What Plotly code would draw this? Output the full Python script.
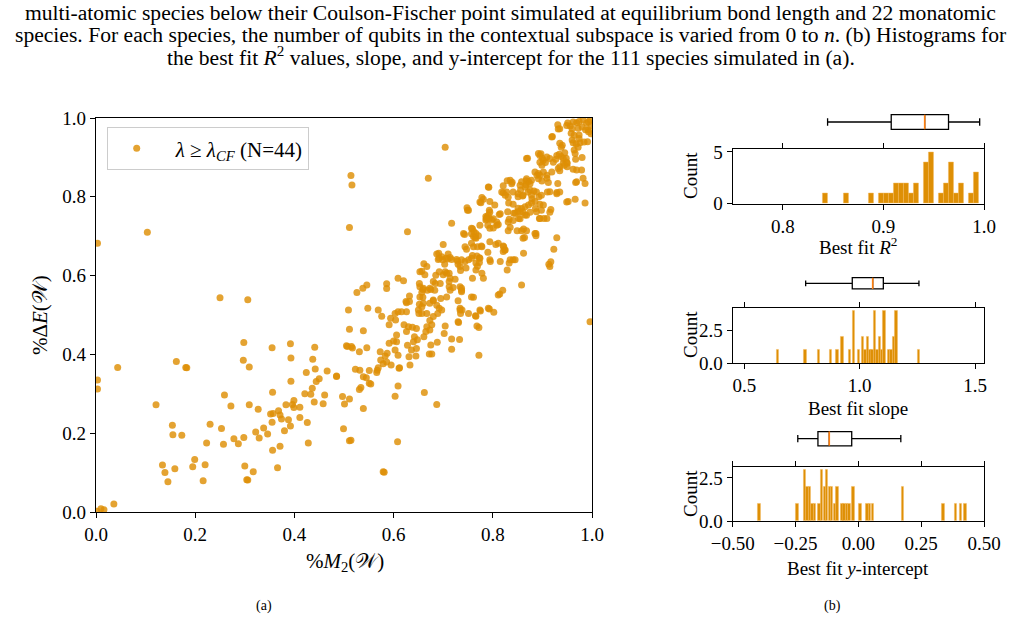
import plotly.graph_objects as go

# ---------------- data ----------------
# scatter: (%M2(W), %dE(W)) pairs
pts_left = [
    (0.003,0.682),(0.1035,0.710),(0.25,0.544),(0.306,0.539),
    (0.514,0.854),(0.516,0.830),(0.511,0.722),(0.509,0.513),
    (0.511,0.464),(0.505,0.422),(0.511,0.287),(0.497,0.293),(0.501,0.274),(0.499,0.211),(0.511,0.181),
    (0.003,0.335),(0.003,0.312),(0.0437,0.367),(0.162,0.382),(0.181,0.367),(0.183,0.366),
    (0.121,0.272),(0.154,0.220),(0.155,0.196),(0.173,0.195),(0.134,0.119),(0.139,0.100),(0.145,0.077),(0.159,0.110),
    (0.195,0.115),(0.199,0.133),(0.216,0.079),(0.220,0.120),(0.223,0.175),(0.230,0.223),(0.259,0.297),(0.272,0.269),
    (0.253,0.212),(0.257,0.172),(0.278,0.186),(0.287,0.173),(0.298,0.189),(0.300,0.117),(0.304,0.082),(0.306,0.081),(0.317,0.102),
    (0.298,0.430),(0.297,0.385),(0.309,0.368),(0.309,0.272),(0.327,0.261),(0.322,0.203),(0.329,0.188),(0.338,0.213),(0.346,0.198),
    (0.355,0.417),(0.356,0.304),(0.352,0.249),(0.357,0.250),(0.355,0.228),(0.356,0.157),(0.366,0.112),(0.368,0.257),(0.371,0.246),
    (0.374,0.236),(0.371,0.167),(0.380,0.206),(0.383,0.272),(0.388,0.234),(0.392,0.218),
    (0.392,0.427),(0.393,0.391),(0.393,0.332),(0.396,0.273),(0.399,0.283),(0.399,0.265),(0.411,0.266),(0.411,0.240),(0.421,0.300),
    (0.424,0.354),(0.426,0.227),(0.428,0.175),(0.433,0.299),(0.436,0.314),(0.437,0.388),(0.441,0.418),(0.442,0.363),(0.444,0.331),
    (0.440,0.279),(0.450,0.338),(0.458,0.275),(0.461,0.297),(0.466,0.358),(0.485,0.344),
    (0.036,0.020),(0.010,0.008),(0.016,0.006),(0.002,0.002),
]
pts_mid = [
    (0.526,0.557),(0.538,0.568),(0.546,0.576),(0.548,0.517),(0.569,0.513),(0.576,0.497),(0.586,0.579),(0.586,0.567),
    (0.539,0.460),(0.507,0.420),(0.515,0.420),(0.517,0.416),(0.531,0.407),(0.546,0.417),(0.523,0.362),(0.532,0.360),
    (0.551,0.359),(0.567,0.360),(0.566,0.354),(0.569,0.366),(0.573,0.407),(0.574,0.386),(0.579,0.376),(0.583,0.396),
    (0.587,0.403),(0.586,0.381),(0.595,0.373),(0.591,0.428),(0.600,0.434),(0.606,0.432),(0.606,0.449),(0.603,0.411),
    (0.609,0.398),(0.611,0.365),(0.591,0.475),(0.604,0.487),(0.594,0.492),(0.603,0.504),(0.609,0.508),(0.616,0.508),(0.626,0.508),
    (0.621,0.475),(0.630,0.470),(0.626,0.458),(0.638,0.469),(0.646,0.466),(0.625,0.534),(0.632,0.548),(0.632,0.534),
    (0.628,0.423),(0.636,0.411),(0.631,0.394),(0.645,0.396),(0.646,0.415),(0.648,0.437),(0.642,0.445),(0.640,0.432),(0.633,0.373),
    (0.652,0.580),(0.659,0.565),(0.653,0.546),(0.650,0.513),(0.651,0.504),(0.657,0.504),(0.667,0.504),(0.660,0.530),
    (0.673,0.486),(0.677,0.475),(0.673,0.462),(0.665,0.458),(0.661,0.445),(0.675,0.424),(0.672,0.401),(0.677,0.401),
    (0.662,0.303),(0.687,0.273),(0.688,0.431),
    (0.680,0.538),(0.687,0.525),(0.689,0.504),(0.704,0.472),(0.702,0.453),(0.717,0.439),(0.717,0.413),(0.733,0.438),
    (0.731,0.481),(0.734,0.513),(0.735,0.504),(0.737,0.568),(0.737,0.562),(0.761,0.545),(0.766,0.497),(0.768,0.472),
    (0.772,0.468),(0.772,0.398),
    (0.539,0.343),(0.551,0.327),(0.534,0.316),(0.531,0.311),(0.539,0.263),(0.609,0.320),(0.603,0.294),(0.485,0.345),
    (0.545,0.341),(0.554,0.325),
    (0.514,0.182),(0.579,0.102),(0.581,0.101),(0.608,0.178),
    (0.793,0.515),(0.802,0.507),(0.775,0.510),(0.765,0.498),(0.612,0.366),
]
pts_upper = [
    (0.704,0.926),(0.670,0.847),(0.628,0.711),(0.609,0.593),(0.620,0.587),(0.626,0.531),
    (0.657,0.558),(0.661,0.630),(0.657,0.611),(0.663,0.602),(0.652,0.527),(0.659,0.545),(0.668,0.563),(0.675,0.565),
    (0.673,0.530),(0.680,0.536),(0.685,0.601),(0.691,0.657),(0.692,0.644),(0.684,0.580),(0.694,0.580),(0.700,0.679),
    (0.703,0.629),(0.709,0.642),(0.704,0.610),(0.712,0.606),(0.712,0.572),(0.714,0.563),(0.707,0.546),(0.717,0.733),
    (0.729,0.637),(0.730,0.629),(0.734,0.572),(0.730,0.536),(0.738,0.513),(0.743,0.704),(0.744,0.673),(0.747,0.667),
    (0.748,0.772),(0.749,0.766),(0.759,0.719),(0.761,0.699),(0.766,0.695),(0.761,0.673),(0.759,0.651),(0.768,0.650),
    (0.769,0.624),(0.778,0.673),(0.773,0.645),(0.773,0.633),(0.778,0.798),(0.781,0.794),(0.778,0.606),(0.781,0.593),
    (0.786,0.741),(0.792,0.824),(0.788,0.748),(0.793,0.766),(0.794,0.686),(0.798,0.741),(0.801,0.721),(0.795,0.636),
    (0.806,0.679),(0.813,0.755),(0.811,0.730),(0.815,0.636),(0.820,0.563),(0.814,0.553),(0.822,0.673),(0.824,0.665),
    (0.821,0.828),(0.821,0.810),(0.829,0.841),(0.831,0.799),(0.832,0.784),(0.830,0.762),(0.833,0.743),(0.835,0.723),
    (0.839,0.837),(0.841,0.781),(0.842,0.758),(0.841,0.640),(0.833,0.632),(0.850,0.762),(0.852,0.745),(0.849,0.714),
    (0.851,0.800),(0.856,0.817),(0.858,0.770),(0.860,0.802),(0.862,0.718),(0.864,0.697),(0.862,0.657),(0.868,0.714),
    (0.867,0.830),(0.867,0.841),(0.870,0.898),(0.872,0.839),(0.875,0.817),(0.879,0.795),(0.883,0.815),(0.886,0.770),
    (0.888,0.762),(0.887,0.707),(0.887,0.701),(0.889,0.855),(0.892,0.846),(0.894,0.745),(0.893,0.800),(0.895,0.781),
    (0.899,0.840),(0.892,0.910),(0.897,0.909),(0.903,0.745),(0.902,0.893),(0.906,0.887),(0.909,0.847),(0.912,0.836),
    (0.915,0.813),(0.917,0.768),(0.913,0.629),(0.915,0.623),(0.917,0.635),(0.923,0.667),(0.929,0.696),(0.920,0.953),
    (0.922,0.888),(0.927,0.895),(0.931,0.983),(0.932,0.972),(0.935,0.936),(0.934,0.908),(0.938,0.902),(0.932,0.872),
    (0.935,0.866),(0.931,0.834),(0.929,0.811),(0.940,0.931),(0.942,0.885),(0.945,0.912),(0.948,0.898),(0.950,0.885),
    (0.950,0.876),(0.952,0.788),(0.951,0.987),(0.956,0.980),(0.958,0.961),(0.960,0.944),(0.962,0.937),(0.964,0.919),
    (0.966,0.910),(0.967,0.895),(0.969,0.868),(0.967,0.836),(0.966,0.794),(0.969,0.988),(0.972,0.974),(0.974,0.991),
    (0.974,0.957),(0.976,0.937),(0.979,0.868),(0.980,0.900),(0.982,0.847),(0.986,0.834),(0.986,0.784),(0.989,0.987),
    (0.992,0.970),(0.991,0.940),(0.996,0.995),(0.993,0.965),
    (0.962,0.990),(0.982,0.995),(0.993,0.990),(0.960,0.973),(0.980,0.977),(0.987,0.970),(0.964,0.956),(0.974,0.948),
    (0.968,0.934),(0.972,0.926),(0.984,0.939),(0.949,0.981),(0.935,0.973),(0.919,0.952),(0.938,0.926),(0.998,0.980),
    (0.998,0.960),(0.996,0.483),
    (0.776,0.785),(0.794,0.788),(0.804,0.779),(0.851,0.771),(0.865,0.775),(0.872,0.779),(0.878,0.784),(0.885,0.788),
    (0.902,0.779),(0.845,0.758),(0.855,0.762),(0.865,0.754),(0.895,0.745),(0.909,0.745),(0.808,0.728),(0.786,0.750),
    (0.793,0.745),(0.790,0.728),(0.794,0.720),(0.774,0.728),(0.831,0.714),(0.858,0.714),(0.861,0.695),(0.885,0.707),
    (0.741,0.707),(0.757,0.720),(0.762,0.711),(0.766,0.707),(0.771,0.701),(0.764,0.697),(0.757,0.682),(0.769,0.673),
    (0.777,0.675),(0.790,0.659),(0.811,0.682),(0.821,0.675),(0.825,0.665),(0.821,0.661),(0.687,0.655),(0.697,0.648),
    (0.710,0.655),(0.714,0.646),(0.690,0.641),(0.699,0.640),(0.706,0.644),(0.717,0.641),(0.727,0.641),(0.737,0.640),
    (0.744,0.636),(0.751,0.640),(0.757,0.644),(0.774,0.644),(0.667,0.623),(0.653,0.610),(0.692,0.610),(0.700,0.602),
    (0.707,0.606),(0.714,0.593),(0.712,0.585),(0.724,0.591),(0.720,0.570),(0.680,0.585),(0.673,0.568),(0.683,0.563),
    (0.734,0.623),(0.735,0.613),(0.746,0.619),(0.759,0.593),(0.766,0.632),(0.766,0.614),(0.794,0.640),(0.835,0.640),
    (0.845,0.640),(0.829,0.614),(0.811,0.551),(0.858,0.576),(0.737,0.559),(0.757,0.546),(0.774,0.513),(0.791,0.517),
    (0.653,0.572),(0.660,0.568),(0.657,0.521),(0.692,0.517),(0.695,0.542),(0.697,0.513),(0.680,0.496),(0.734,0.517),
    (0.730,0.483),(0.751,0.504),(0.667,0.470),
    (0.868,0.897),(0.895,0.905),(0.900,0.897),(0.909,0.901),(0.915,0.897),(0.895,0.888),(0.899,0.880),(0.929,0.905),
    (0.942,0.897),(0.949,0.888),(0.944,0.880),(0.935,0.876),(0.885,0.863),(0.892,0.859),(0.895,0.855),(0.902,0.863),
    (0.909,0.855),(0.919,0.863),(0.858,0.838),(0.868,0.846),(0.875,0.833),(0.878,0.842),(0.865,0.825),(0.855,0.829),
    (0.835,0.842),(0.838,0.833),(0.828,0.812),(0.818,0.812),(0.825,0.804),(0.791,0.825),(0.841,0.812),(0.851,0.808),
    (0.861,0.804),(0.871,0.812),(0.878,0.804),(0.888,0.812),(0.898,0.804),(0.910,0.812),(0.929,0.808),(0.935,0.812),
    (0.751,0.766),(0.774,0.787),(0.794,0.761),(0.791,0.753),(0.801,0.744),(0.787,0.744),(0.808,0.736),(0.815,0.757),
    (0.841,0.740),(0.831,0.736),(0.855,0.744),(0.861,0.761),(0.868,0.753),(0.875,0.761),(0.898,0.766),(0.915,0.761),
    (0.757,0.706),(0.949,0.787),(0.969,0.838),(0.962,0.870),
]

# histogram bins (centres) and counts
r2_centers = [0.842, 0.8625, 0.8875, 0.8975, 0.9025, 0.9075, 0.9125, 0.9175, 0.9225, 0.9275, 0.9325,
              0.9425, 0.9475, 0.9575, 0.9625, 0.9675, 0.9725, 0.9775, 0.9875, 0.9925]
r2_counts = [1, 1, 1, 1, 1, 1, 2, 2, 2, 1, 2, 4, 5, 1, 2, 4, 1, 2, 1, 3]
slope_centers = [0.645, 0.7645, 0.8235, 0.874, 0.903, 0.925, 0.956, 0.974, 0.995, 1.014, 1.0245, 1.035,
                 1.0455, 1.054, 1.065, 1.076, 1.086, 1.096, 1.1055, 1.1265, 1.137, 1.1475, 1.158, 1.257]
slope_counts = [1, 1, 1, 1, 1, 2, 1, 4, 1, 2, 1, 2, 1, 1, 4, 1, 2, 1, 4, 1, 1, 2, 4, 1]
icpt_centers = [-0.394, -0.244, -0.214, -0.204, -0.194, -0.184, -0.174, -0.155, -0.145, -0.135, -0.125,
                -0.115, -0.105, -0.095, -0.085, -0.065, -0.056, -0.046, -0.036, -0.021, 0.007, 0.036,
                0.046, 0.056, 0.177, 0.338, 0.388, 0.407, 0.425]
icpt_counts = [1, 1, 3, 2, 2, 1, 1, 1, 3, 2, 3, 2, 2, 1, 2, 1, 1, 1, 1, 2, 1, 1, 1, 1, 2, 1, 1, 1, 1]

# box-plot statistics: lower whisker, q1, median, q3, upper whisker
r2_box = [0.8444, 0.9077, 0.941, 0.9647, 0.9957]
slope_box = [0.766, 0.968, 1.0565, 1.1026, 1.257]
icpt_box = [-0.241, -0.1608, -0.1157, -0.0264, 0.169]

caption_lines = [
    "multi-atomic species below their Coulson-Fischer point simulated at equilibrium bond length and 22 monatomic",
    "species. For each species, the number of qubits in the contextual subspace is varied from 0 to <i>n</i>. (b) Histograms for",
    "the best fit <i>R</i><sup>2</sup> values, slope, and y-intercept for the 111 species simulated in (a).",
]

# ---------------- style ----------------
W, H = 1021, 623
ORANGE = "#DE8F05"
FONT = "Liberation Serif"

def px(x):
    return x / W

def py(y):
    return 1 - y / H

pts = pts_left + pts_mid + pts_upper
xs = [p[0] for p in pts]
ys = [p[1] for p in pts]

fig = go.Figure()

fig.add_trace(go.Scatter(
    x=xs, y=ys, mode="markers", xaxis="x", yaxis="y",
    marker=dict(color=ORANGE, size=7, opacity=0.82, line=dict(width=0)),
    name="\u00a0\u00a0<i>λ</i> ≥ <i>λ</i><sub><i>CF</i></sub> (N=44)", showlegend=True,
))

hist_specs = [
    ("x2", "y2", "x5", "y5", r2_centers, r2_counts, 0.00504, r2_box, 0.487),
    ("x3", "y3", "x6", "y6", slope_centers, slope_counts, 0.0105, slope_box, 0.377),
    ("x4", "y4", "x7", "y7", icpt_centers, icpt_counts, 0.0097, icpt_box, 0.477),
]
for xa, ya, xb, yb, centers, counts, bw, box, bwid in hist_specs:
    fig.add_trace(go.Bar(
        x=centers, y=counts, width=bw, xaxis=xa, yaxis=ya, showlegend=False,
        marker=dict(color=ORANGE, line=dict(color="#F2B75A", width=0.5)),
    ))
    fig.add_trace(go.Box(
        y=[0], lowerfence=[box[0]], q1=[box[1]], median=[box[2]], q3=[box[3]], upperfence=[box[4]],
        orientation="h", xaxis=xb, yaxis=yb, showlegend=False, boxpoints=False,
        fillcolor="white", line=dict(color="black", width=1.3), width=bwid, whiskerwidth=0.5,
    ))
    fig.add_trace(go.Scatter(
        x=[box[2], box[2]], y=[-bwid / 2, bwid / 2], mode="lines", xaxis=xb, yaxis=yb,
        line=dict(color="#ff7f0e", width=1.6), showlegend=False,
    ))

axis_common = dict(showline=True, linecolor="black", linewidth=1.2, mirror=True, ticks="outside",
                   ticklen=5, tickwidth=1.2, tickcolor="black", showgrid=False, zeroline=False,
                   automargin=False, tickfont=dict(family=FONT, size=19, color="black"))
hidden = dict(visible=False, automargin=False, showgrid=False, zeroline=False)

hx = [px(732.7), px(984)]
r_r2, r_slope, r_icpt = [0.75, 1.0], [0.4497, 1.539], [-0.5, 0.5]
layout = dict(
    width=W, height=H, margin=dict(l=0, r=0, t=0, b=0, autoexpand=False),
    paper_bgcolor="white", plot_bgcolor="white",
    font=dict(family=FONT, size=17, color="black"),
    bargap=0,
    xaxis=dict(domain=[px(96), px(592)], range=[0, 1], anchor="y",
               tickvals=[0, 0.2, 0.4, 0.6, 0.8, 1.0], tickformat=".1f", **axis_common),
    yaxis=dict(domain=[py(512), py(118)], range=[0, 1], anchor="x",
               tickvals=[0, 0.2, 0.4, 0.6, 0.8, 1.0], tickformat=".1f", **axis_common),
    xaxis2=dict(domain=hx, range=r_r2, anchor="y2",
                tickvals=[0.8, 0.9, 1.0], tickformat=".1f", **{**axis_common, "mirror": "allticks"}),
    yaxis2=dict(domain=[py(203.7), py(149.3)], range=[0, 5.25], anchor="x2",
                tickvals=[0, 5], **axis_common),
    xaxis3=dict(domain=hx, range=r_slope, anchor="y3",
                tickvals=[0.5, 1.0, 1.5], tickformat=".1f", **{**axis_common, "mirror": "allticks"}),
    yaxis3=dict(domain=[py(363.3), py(307.7)], range=[0, 4.2], anchor="x3",
                tickvals=[0, 2.5], tickformat=".1f", **axis_common),
    xaxis4=dict(domain=hx, range=r_icpt, anchor="y4",
                tickvals=[-0.5, -0.25, 0, 0.25, 0.5],
                ticktext=["\u22120.50", "\u22120.25", "0.00", "0.25", "0.50"],
                **{**axis_common, "mirror": "allticks"}),
    yaxis4=dict(domain=[py(521), py(466.7)], range=[0, 3.15], anchor="x4",
                tickvals=[0, 2.5], tickformat=".1f", **axis_common),
    xaxis5=dict(domain=hx, range=r_r2, anchor="y5", **hidden),
    yaxis5=dict(domain=[py(137), py(107)], range=[-0.5, 0.5], anchor="x5", **hidden),
    xaxis6=dict(domain=hx, range=r_slope, anchor="y6", **hidden),
    yaxis6=dict(domain=[py(298.3), py(268.3)], range=[-0.5, 0.5], anchor="x6", **hidden),
    xaxis7=dict(domain=hx, range=r_icpt, anchor="y7", **hidden),
    yaxis7=dict(domain=[py(453.7), py(423.7)], range=[-0.5, 0.5], anchor="x7", **hidden),
    showlegend=True,
    legend=dict(x=px(107), y=py(127), xanchor="left", yanchor="top",
                bgcolor="white", bordercolor="#cccccc", borderwidth=1.2,
                font=dict(family=FONT, size=21, color="black"), itemwidth=47),
)
fig.update_layout(**layout)

ann = []
cap_y = [13, 35, 57]
for txt, yy in zip(caption_lines, cap_y):
    ann.append(dict(text=txt, x=0.5, y=py(yy), xref="paper", yref="paper",
                    xanchor="center", yanchor="middle", showarrow=False,
                    font=dict(family=FONT, size=21.6, color="black")))
labels = [
    ("%<i>M</i><sub>2</sub>(𝒲)", px(345), py(562), 0, 21),
    ("%Δ<i>E</i>(𝒲)", px(40), py(315), -90, 21),
    ("Count", px(690), py(176), -90, 19),
    ("Count", px(690), py(335), -90, 19),
    ("Count", px(690), py(494), -90, 19),
    ("Best fit <i>R</i><sup>2</sup>", px(858), py(246), 0, 19),
    ("Best fit slope", px(858), py(408), 0, 19),
    ("Best fit <i>y</i>-intercept", px(858), py(568), 0, 19),
    ("(a)", px(264), py(606), 0, 14),
    ("(b)", px(832), py(606), 0, 14),
]
for txt, x, y, ang, sz in labels:
    ann.append(dict(text=txt, x=x, y=y, xref="paper", yref="paper", xanchor="center",
                    yanchor="middle", showarrow=False, textangle=ang,
                    font=dict(family=FONT, size=sz, color="black")))
fig.update_layout(annotations=ann)

fig.write_html("out.html")
